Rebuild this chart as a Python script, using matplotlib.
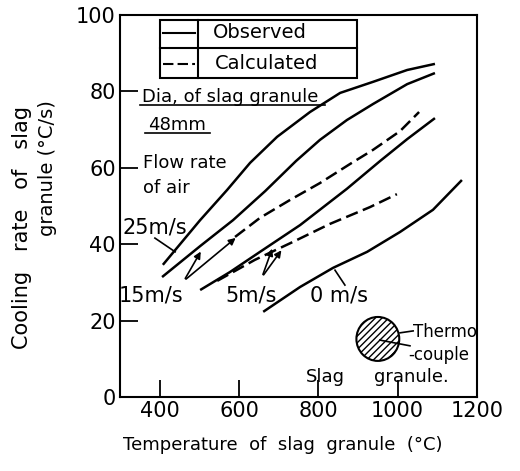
import matplotlib
matplotlib.use("Agg")
import matplotlib.pyplot as plt
from matplotlib.patches import Rectangle, Ellipse

# observed curves (solid)
t_25_obs = [408, 502, 570, 628, 696, 779, 855, 938, 1024, 1094]
r_25_obs = [34.6, 46.3, 54.2, 61.3, 68.1, 74.6, 79.6, 82.5, 85.6, 87.2]

t_15_obs = [406, 502, 585, 666, 744, 804, 872, 938, 1024, 1094]
r_15_obs = [31.4, 39.5, 46.3, 53.9, 61.8, 67.3, 72.5, 76.7, 81.9, 84.8]

t_5_obs = [502, 577, 653, 754, 872, 956, 1024, 1094]
r_5_obs = [28.0, 32.7, 38.0, 45.0, 54.5, 61.8, 67.5, 73.0]

t_0_obs = [661, 754, 837, 923, 1006, 1089, 1162]
r_0_obs = [22.3, 28.8, 33.8, 38.0, 43.2, 49.0, 56.8]

# calculated curves (dashed)
t_15_calc = [590, 653, 729, 804, 880, 938, 1006, 1054]
r_15_calc = [41.9, 46.9, 51.6, 56.0, 61.0, 64.7, 69.6, 74.6]

t_5_calc = [545, 640, 736, 829, 930, 998]
r_5_calc = [30.4, 35.9, 40.6, 45.3, 49.7, 53.1]

xticks = [400, 600, 800, 1000, 1200]
xticklabels = ["400", "600", "800", "1000", "1200"]
yticks = [0, 20, 40, 60, 80, 100]
yticklabels = ["0", "20", "40", "60", "80", "100"]

fig = plt.figure(figsize=(5.2, 4.71), dpi=100)
ax = fig.add_axes([0.2308, 0.1571, 0.6865, 0.8111])
ax.set_xlim(300, 1200)
ax.set_ylim(0, 100)

lw = 1.8
for t, r in [(t_25_obs, r_25_obs), (t_15_obs, r_15_obs), (t_5_obs, r_5_obs), (t_0_obs, r_0_obs)]:
    ax.plot(t, r, color="black", lw=lw, solid_capstyle="butt")
for t, r in [(t_15_calc, r_15_calc), (t_5_calc, r_5_calc)]:
    ax.plot(t, r, color="black", lw=lw, dashes=(5, 2.2))

for s in ax.spines.values():
    s.set_linewidth(1.5)
ax.set_xticks(xticks)
ax.set_xticklabels(xticklabels)
ax.set_yticks(yticks)
ax.set_yticklabels(yticklabels)
ax.tick_params(axis="x", direction="in", length=12, width=1.3, pad=3, labelsize=15)
ax.tick_params(axis="y", direction="in", length=13, width=1.3, pad=3, labelsize=15)

# legend box
ax.add_patch(Rectangle((401, 83.5), 497, 15.2, fill=False, lw=1.5, clip_on=False))
ax.plot([401, 898], [91.4, 91.4], color="black", lw=1.5)
ax.plot([497, 497], [83.5, 98.7], color="black", lw=1.5)
ax.plot([408, 489], [95.3, 95.3], color="black", lw=1.5)
ax.plot([408, 489], [87.2, 87.2], color="black", lw=1.5, dashes=(5, 2))
ax.text(534, 95.3, "Observed", fontsize=14, va="center")
ax.text(538, 87.2, "Calculated", fontsize=14, va="center")

# notes
ax.text(355, 78.5, "Dia, of slag granule", fontsize=13, va="center")
ax.plot([350, 817], [76.4, 76.4], color="black", lw=1.2)
ax.text(370, 71.2, "48mm", fontsize=13, va="center")
ax.plot([363, 527], [69.2, 69.2], color="black", lw=1.2)
ax.text(358, 61.3, "Flow rate", fontsize=13, va="center")
ax.text(358, 54.7, "of air", fontsize=13, va="center")

# curve labels with pointers
ax.text(388, 44.5, "25m/s", fontsize=15, ha="center", va="center")
ax.plot([388, 439], [41.6, 38.0], color="black", lw=1.2)
ax.text(378, 26.7, "15m/s", fontsize=15, ha="center", va="center")
ax.annotate("", xy=(507, 38.7), xytext=(461, 30.4),
            arrowprops=dict(arrowstyle="-|>", color="black", lw=1.2, mutation_scale=10))
ax.annotate("", xy=(597, 42.1), xytext=(461, 30.4),
            arrowprops=dict(arrowstyle="-|>", color="black", lw=1.2, mutation_scale=10))
ax.text(630, 26.7, "5m/s", fontsize=15, ha="center", va="center")
ax.annotate("", xy=(686, 39.5), xytext=(658, 31.4),
            arrowprops=dict(arrowstyle="-|>", color="black", lw=1.2, mutation_scale=10))
ax.annotate("", xy=(711, 39.0), xytext=(658, 31.4),
            arrowprops=dict(arrowstyle="-|>", color="black", lw=1.2, mutation_scale=10))
ax.text(852, 26.7, "0 m/s", fontsize=15, ha="center", va="center")
ax.plot([842, 867], [33.2, 29.3], color="black", lw=1.2)

# thermocouple sketch
ax.add_patch(Ellipse((950, 15.2), 108, 11.5, facecolor="white", edgecolor="black",
                     lw=1.5, hatch="/////"))
ax.plot([1006, 1039], [16.8, 17.3], color="black", lw=1.2)
ax.plot([955, 1031], [14.9, 13.4], color="black", lw=1.2)
ax.text(1038, 17.0, "Thermo", fontsize=12, va="center")
ax.text(1026, 11.0, "-couple", fontsize=12, va="center")
ax.text(819, 5.2, "Slag", fontsize=13, ha="center", va="center")
ax.text(1034, 5.2, "granule.", fontsize=13, ha="center", va="center")

fig.text(0.544, 0.055, "Temperature  of  slag  granule  (°C)", fontsize=13,
         ha="center", va="center")
fig.text(0.042, 0.516, "Cooling   rate   of   slag", fontsize=15, rotation=90,
         ha="center", va="center")
fig.text(0.092, 0.643, "granule (°C/s)", fontsize=14, rotation=90,
         ha="center", va="center")

fig.savefig("out.png", dpi=100)
